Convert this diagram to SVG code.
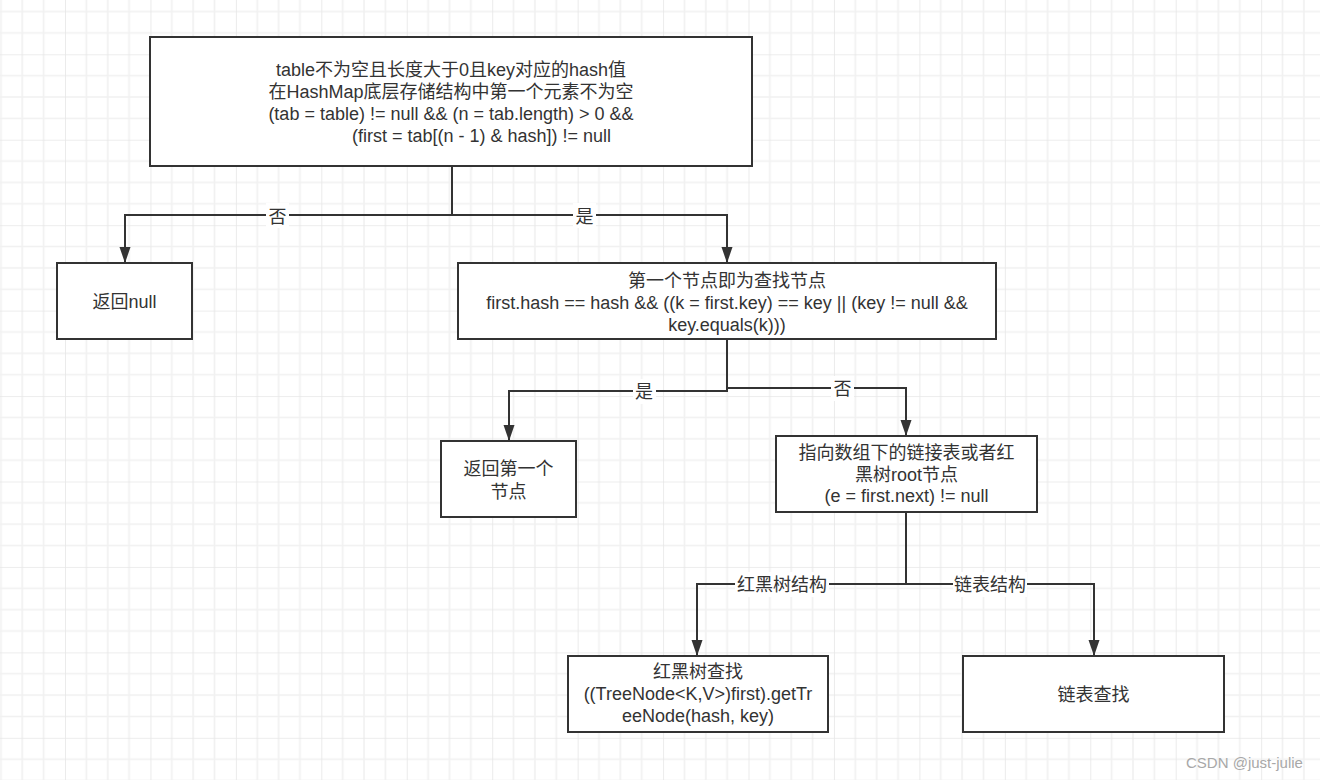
<svg xmlns="http://www.w3.org/2000/svg" width="1320" height="780" viewBox="0 0 1320 780">
<style>
.box{fill:#ffffff;stroke:#333333;stroke-width:2}
.t{font-family:"Liberation Sans","Noto Sans CJK SC",sans-serif;font-size:18px;fill:#333333;text-anchor:middle}
.edge{fill:none;stroke:#333333;stroke-width:2}
.lblbg{fill:#ffffff}
.wm{font-family:"Liberation Sans","Noto Sans CJK SC",sans-serif;font-size:15px;fill:#a8a8a8}
</style>
<defs>
<pattern id="grid" patternUnits="userSpaceOnUse" x="65" y="54.3" width="85.44" height="85.44">
<rect width="85.44" height="85.44" fill="#ffffff"/>
<path d="M21.36,0V85.44M42.72,0V85.44M64.08,0V85.44M0,21.36H85.44M0,42.72H85.44M0,64.08H85.44" stroke="#f1f1f1" stroke-width="1.6" fill="none"/>
<path d="M0,0V85.44M0,0H85.44" stroke="#e7e7e7" stroke-width="1.6" fill="none"/>
</pattern>
<marker id="arr" markerUnits="userSpaceOnUse" markerWidth="18" markerHeight="12" refX="16" refY="5.5" orient="auto">
<path d="M0,0 L16,5.5 L0,11 z" fill="#333333"/>
</marker>
</defs>
<rect width="1320" height="780" fill="url(#grid)"/>

<g id="connectors">
<path class="edge" d="M452,166 V215 H125 V263" marker-end="url(#arr)"/>
<path class="edge" d="M452,166 V215 H727 V263" marker-end="url(#arr)"/>
<path class="edge" d="M727,339 V391 H509 V441" marker-end="url(#arr)"/>
<path class="edge" d="M727,339 V388 H906 V436" marker-end="url(#arr)"/>
<path class="edge" d="M906,512 V584 H697 V656" marker-end="url(#arr)"/>
<path class="edge" d="M906,512 V584 H1094 V656" marker-end="url(#arr)"/>
<rect class="lblbg" x="266" y="203" width="23" height="25"/>
<text class="t" x="277.5" y="222.5">否</text>
<rect class="lblbg" x="573" y="203" width="23" height="25"/>
<text class="t" x="584.5" y="222.5">是</text>
<rect class="lblbg" x="633" y="379" width="23" height="25"/>
<text class="t" x="644" y="398">是</text>
<rect class="lblbg" x="831" y="376" width="23" height="25"/>
<text class="t" x="842.5" y="395">否</text>
<rect class="lblbg" x="735" y="572" width="94" height="25"/>
<text class="t" x="782" y="591">红黑树结构</text>
<rect class="lblbg" x="953" y="572" width="74" height="25"/>
<text class="t" x="990" y="591">链表结构</text>
</g>

<g id="node-check-table">
<rect class="box" x="150" y="37" width="602" height="129"/>
<text class="t" x="451" y="75.5">table不为空且长度大于0且key对应的hash值</text>
<text class="t" x="451" y="97.5">在HashMap底层存储结构中第一个元素不为空</text>
<text class="t" x="451" y="119.5">(tab = table) != null &amp;&amp; (n = tab.length) &gt; 0 &amp;&amp;</text>
<text class="t" x="481.5" y="141.5">(first = tab[(n - 1) &amp; hash]) != null</text>
</g>

<g id="node-return-null">
<rect class="box" x="57" y="263" width="135" height="76"/>
<text class="t" x="124.5" y="307.5">返回null</text>
</g>

<g id="node-first-match">
<rect class="box" x="458" y="263" width="538" height="76"/>
<text class="t" x="727" y="287">第一个节点即为查找节点</text>
<text class="t" x="727" y="309">first.hash == hash &amp;&amp; ((k = first.key) == key || (key != null &amp;&amp;</text>
<text class="t" x="727" y="331">key.equals(k)))</text>
</g>

<g id="node-return-first">
<rect class="box" x="441" y="441" width="135" height="76"/>
<text class="t" x="508.5" y="475">返回第一个</text>
<text class="t" x="508.5" y="497.5">节点</text>
</g>

<g id="node-next">
<rect class="box" x="776" y="436" width="261" height="76"/>
<text class="t" x="906.5" y="458.5">指向数组下的链接表或者红</text>
<text class="t" x="906.5" y="480.5">黑树root节点</text>
<text class="t" x="906.5" y="502">(e = first.next) != null</text>
</g>

<g id="node-tree-find">
<rect class="box" x="568" y="656" width="260" height="76"/>
<text class="t" x="698" y="678">红黑树查找</text>
<text class="t" x="698" y="700">((TreeNode&lt;K,V&gt;)first).getTr</text>
<text class="t" x="698" y="722">eeNode(hash, key)</text>
</g>

<g id="node-list-find">
<rect class="box" x="963" y="656" width="261" height="76"/>
<text class="t" x="1093.5" y="700.5">链表查找</text>
</g>

<text class="wm" x="1186" y="768">CSDN @just-julie</text>
</svg>
